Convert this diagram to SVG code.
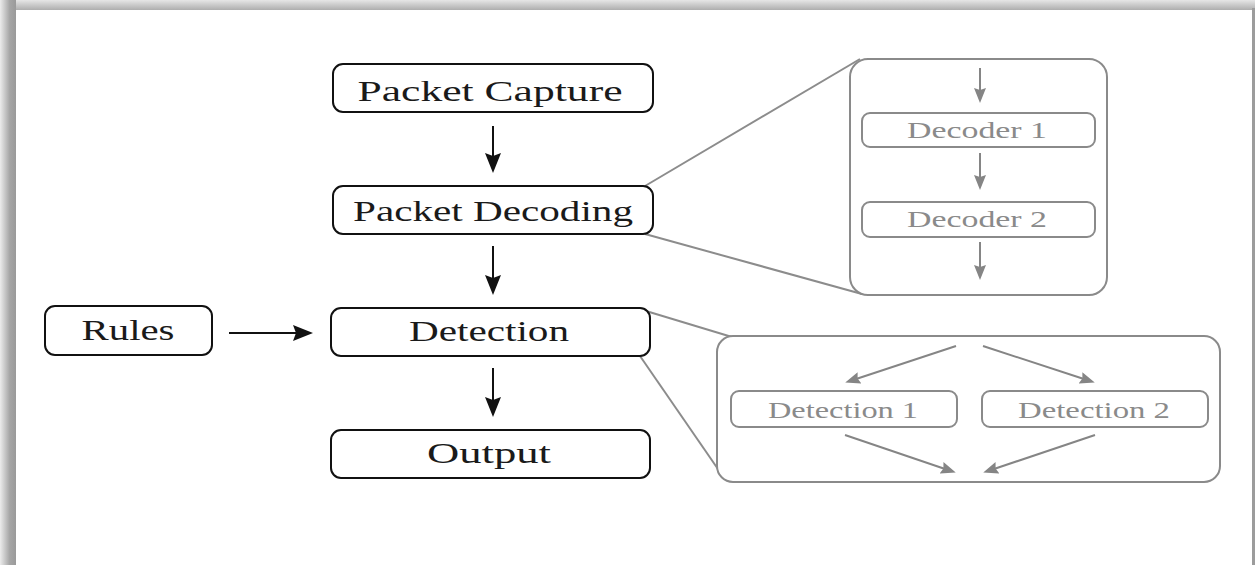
<svg xmlns="http://www.w3.org/2000/svg" width="1255" height="565" viewBox="0 0 1255 565">
<defs>
<linearGradient id="gTop" x1="0" y1="0" x2="0" y2="1"><stop offset="0" stop-color="#e6e6e6"/><stop offset="1" stop-color="#a8a8a8"/></linearGradient>
<linearGradient id="gLeft" x1="0" y1="0" x2="1" y2="0"><stop offset="0" stop-color="#ececec"/><stop offset="0.6" stop-color="#a6a6a6"/><stop offset="1" stop-color="#9a9a9a"/></linearGradient>
<marker id="ab" markerUnits="userSpaceOnUse" markerWidth="20" markerHeight="16" refX="14" refY="8" orient="auto"><path d="M0,0 L20,8 L0,16 L3,8 z" fill="#111"/></marker>
<marker id="ag" markerUnits="userSpaceOnUse" markerWidth="15" markerHeight="12" refX="10" refY="6" orient="auto"><path d="M0,0 L15,6 L0,12 L2,6 z" fill="#858585"/></marker>
</defs>
<style>
.box{fill:#fff;stroke:#111;stroke-width:2}
.gbox{fill:#fff;stroke:#8a8a8a;stroke-width:2}
.t{font-family:"Liberation Serif","Times New Roman",serif;font-size:30px;fill:#1a1a1a;text-anchor:middle}
.gt{font-family:"Liberation Serif","Times New Roman",serif;font-size:23px;fill:#8a8a8a;text-anchor:middle}
.bl{stroke:#111;stroke-width:2;fill:none}
.gl{stroke:#858585;stroke-width:2;fill:none}
.co{stroke:#8c8c8c;stroke-width:2;fill:none}
</style>
<rect x="0" y="0" width="1255" height="565" fill="#fff"/>
<rect x="0" y="0" width="1255" height="11" fill="url(#gTop)"/>
<rect x="0" y="0" width="16" height="565" fill="url(#gLeft)"/>
<rect x="16" y="10" width="1237" height="555" fill="#fff"/>
<rect x="1252" y="8" width="3" height="557" fill="#9c9c9c"/>

<g id="connectors">
<line class="co" x1="645" y1="186" x2="860" y2="59"/>
<line class="co" x1="645" y1="234" x2="862" y2="294"/>
<line class="co" x1="646" y1="311" x2="732" y2="337"/>
<line class="co" x1="640" y1="356" x2="720" y2="472"/>
<line class="bl" x1="493" y1="126" x2="493" y2="167" marker-end="url(#ab)"/>
<line class="bl" x1="493" y1="246" x2="493" y2="289" marker-end="url(#ab)"/>
<line class="bl" x1="493" y1="368" x2="493" y2="411" marker-end="url(#ab)"/>
<line class="bl" x1="229" y1="333" x2="307" y2="333" marker-end="url(#ab)"/>
</g>

<g id="packet-capture"><rect class="box" x="333" y="64" width="320" height="48" rx="10"/><text class="t" x="490" y="101" textLength="265" lengthAdjust="spacingAndGlyphs">Packet Capture</text></g>
<g id="packet-decoding"><rect class="box" x="333" y="186" width="320" height="48" rx="10"/><text class="t" x="493" y="221" textLength="280" lengthAdjust="spacingAndGlyphs">Packet Decoding</text></g>
<g id="rules"><rect class="box" x="45" y="306" width="167" height="49" rx="10"/><text class="t" x="128" y="340" textLength="93" lengthAdjust="spacingAndGlyphs">Rules</text></g>
<g id="detection"><rect class="box" x="331" y="308" width="319" height="48" rx="10"/><text class="t" x="489" y="341" textLength="160" lengthAdjust="spacingAndGlyphs">Detection</text></g>
<g id="output"><rect class="box" x="331" y="430" width="319" height="48" rx="10"/><text class="t" x="489" y="463" textLength="124" lengthAdjust="spacingAndGlyphs">Output</text></g>

<g id="decoder-panel">
<rect class="gbox" x="850" y="59" width="257" height="236" rx="18"/>
<line class="gl" x1="980" y1="68" x2="980" y2="98" marker-end="url(#ag)"/>
<line class="gl" x1="980" y1="153" x2="980" y2="185" marker-end="url(#ag)"/>
<line class="gl" x1="980" y1="242" x2="980" y2="275" marker-end="url(#ag)"/>
</g>
<g id="decoder-1"><rect class="gbox" x="862" y="113" width="233" height="34" rx="8"/><text class="gt" x="977" y="138" textLength="140" lengthAdjust="spacingAndGlyphs">Decoder 1</text></g>
<g id="decoder-2"><rect class="gbox" x="862" y="202" width="233" height="35" rx="8"/><text class="gt" x="977" y="227" textLength="140" lengthAdjust="spacingAndGlyphs">Decoder 2</text></g>

<g id="detection-panel">
<rect class="gbox" x="717" y="336" width="503" height="146" rx="16"/>
<line class="gl" x1="956" y1="346" x2="850" y2="381" marker-end="url(#ag)"/>
<line class="gl" x1="983" y1="346" x2="1090" y2="381" marker-end="url(#ag)"/>
<line class="gl" x1="845" y1="435" x2="951" y2="471" marker-end="url(#ag)"/>
<line class="gl" x1="1095" y1="435" x2="988" y2="471" marker-end="url(#ag)"/>
</g>
<g id="detection-1"><rect class="gbox" x="731" y="391" width="226" height="36" rx="8"/><text class="gt" x="843" y="418" textLength="150" lengthAdjust="spacingAndGlyphs">Detection 1</text></g>
<g id="detection-2"><rect class="gbox" x="982" y="391" width="226" height="36" rx="8"/><text class="gt" x="1094" y="418" textLength="152" lengthAdjust="spacingAndGlyphs">Detection 2</text></g>
</svg>
